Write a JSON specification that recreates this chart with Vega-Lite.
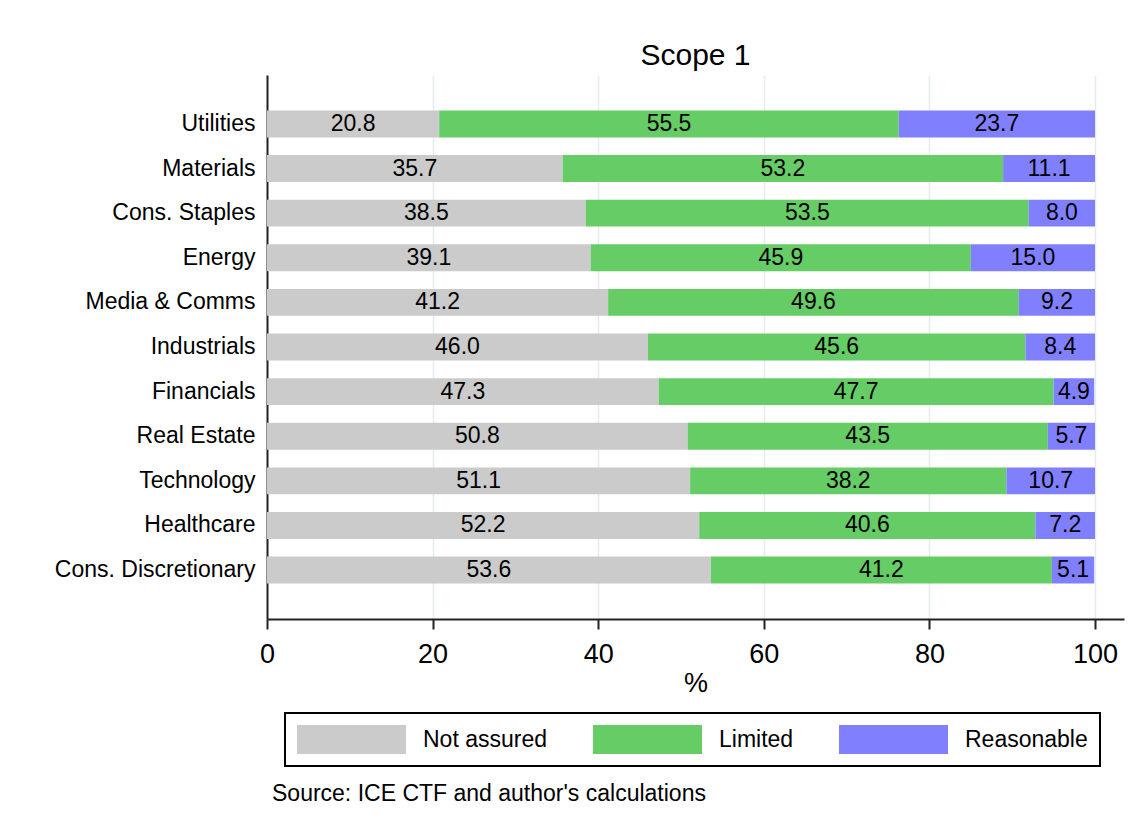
{
  "$schema": "https://vega.github.io/schema/vega-lite/v6.json",
  "background": "white",
  "padding": {"left": 54, "top": 41, "right": 5, "bottom": 5},
  "bounds": "flush",
  "title": {
    "text": "Source: ICE CTF and author's calculations",
    "orient": "bottom",
    "anchor": "start",
    "frame": "group",
    "offset": 16,
    "dx": 5,
    "fontSize": 23,
    "fontWeight": "normal",
    "font": "Liberation Sans",
    "color": "#000"
  },
  "config": {
    "font": "Liberation Sans",
    "view": {"stroke": null},
    "legend": {
      "orient": "none",
      "legendX": 18,
      "legendY": 638,
      "direction": "horizontal",
      "columns": 3,
      "symbolType": "M-1,-0.266H1V0.266H-1Z",
      "symbolSize": 11881,
      "clipHeight": 29,
      "labelFontSize": 23,
      "labelFont": "Liberation Sans",
      "labelOffset": 17,
      "columnPadding": 45,
      "padding": 12,
      "strokeColor": "#000",
      "strokeWidth": 2,
      "fillColor": "#fff",
      "symbolStrokeWidth": 0,
      "symbolOpacity": 1,
      "labelColor": "#000",
      "labelLimit": 300
    }
  },
  "vconcat": [
    {
      "width": 857,
      "height": 544,
      "title": {
        "text": "Scope 1",
        "anchor": "middle",
        "frame": "group",
        "fontSize": 30,
        "fontWeight": "normal",
        "baseline": "alphabetic",
        "offset": -20,
        "color": "#000"
      },
      "data": {
        "values": [
          {"sector": "Utilities", "cat": "Not assured", "o": 1, "v": 20.8},
          {"sector": "Utilities", "cat": "Limited", "o": 2, "v": 55.5},
          {"sector": "Utilities", "cat": "Reasonable", "o": 3, "v": 23.7},
          {"sector": "Materials", "cat": "Not assured", "o": 1, "v": 35.7},
          {"sector": "Materials", "cat": "Limited", "o": 2, "v": 53.2},
          {"sector": "Materials", "cat": "Reasonable", "o": 3, "v": 11.1},
          {"sector": "Cons. Staples", "cat": "Not assured", "o": 1, "v": 38.5},
          {"sector": "Cons. Staples", "cat": "Limited", "o": 2, "v": 53.5},
          {"sector": "Cons. Staples", "cat": "Reasonable", "o": 3, "v": 8.0},
          {"sector": "Energy", "cat": "Not assured", "o": 1, "v": 39.1},
          {"sector": "Energy", "cat": "Limited", "o": 2, "v": 45.9},
          {"sector": "Energy", "cat": "Reasonable", "o": 3, "v": 15.0},
          {"sector": "Media & Comms", "cat": "Not assured", "o": 1, "v": 41.2},
          {"sector": "Media & Comms", "cat": "Limited", "o": 2, "v": 49.6},
          {"sector": "Media & Comms", "cat": "Reasonable", "o": 3, "v": 9.2},
          {"sector": "Industrials", "cat": "Not assured", "o": 1, "v": 46.0},
          {"sector": "Industrials", "cat": "Limited", "o": 2, "v": 45.6},
          {"sector": "Industrials", "cat": "Reasonable", "o": 3, "v": 8.4},
          {"sector": "Financials", "cat": "Not assured", "o": 1, "v": 47.3},
          {"sector": "Financials", "cat": "Limited", "o": 2, "v": 47.7},
          {"sector": "Financials", "cat": "Reasonable", "o": 3, "v": 4.9},
          {"sector": "Real Estate", "cat": "Not assured", "o": 1, "v": 50.8},
          {"sector": "Real Estate", "cat": "Limited", "o": 2, "v": 43.5},
          {"sector": "Real Estate", "cat": "Reasonable", "o": 3, "v": 5.7},
          {"sector": "Technology", "cat": "Not assured", "o": 1, "v": 51.1},
          {"sector": "Technology", "cat": "Limited", "o": 2, "v": 38.2},
          {"sector": "Technology", "cat": "Reasonable", "o": 3, "v": 10.7},
          {"sector": "Healthcare", "cat": "Not assured", "o": 1, "v": 52.2},
          {"sector": "Healthcare", "cat": "Limited", "o": 2, "v": 40.6},
          {"sector": "Healthcare", "cat": "Reasonable", "o": 3, "v": 7.2},
          {"sector": "Cons. Discretionary", "cat": "Not assured", "o": 1, "v": 53.6},
          {"sector": "Cons. Discretionary", "cat": "Limited", "o": 2, "v": 41.2},
          {"sector": "Cons. Discretionary", "cat": "Reasonable", "o": 3, "v": 5.1}
        ]
      },
      "encoding": {
        "y": {
          "field": "sector",
          "type": "nominal",
          "sort": ["Utilities", "Materials", "Cons. Staples", "Energy", "Media & Comms", "Industrials", "Financials", "Real Estate", "Technology", "Healthcare", "Cons. Discretionary"],
          "scale": {"paddingInner": 0.396, "paddingOuter": 0.794},
          "axis": {
            "title": null,
            "ticks": false,
            "labelFontSize": 23,
            "labelPadding": 12,
            "labelColor": "#000",
            "labelLimit": 400,
            "domainColor": "#222",
            "domainWidth": 2,
            "grid": false
          }
        },
        "order": {"field": "o", "type": "quantitative"}
      },
      "layer": [
        {
          "mark": {"type": "bar"},
          "encoding": {
            "x": {
              "field": "v",
              "type": "quantitative",
              "stack": "zero",
              "scale": {"domain": [0, 103.5], "nice": false, "zero": true},
              "axis": {
                "title": "%",
                "values": [0, 20, 40, 60, 80, 100],
                "format": "d",
                "labelFontSize": 27,
                "labelColor": "#000",
                "labelPadding": 12,
                "labelFlush": false,
                "labelOverlap": false,
                "titleFontSize": 27,
                "titleFontWeight": "normal",
                "titleColor": "#000",
                "titlePadding": 3,
                "tickSize": 10,
                "tickWidth": 2,
                "tickColor": "#222",
                "domainColor": "#222",
                "domainWidth": 2,
                "grid": true,
                "gridColor": "#e3ecf0",
                "gridWidth": 1.5
              }
            },
            "color": {
              "field": "cat",
              "type": "nominal",
              "title": null,
              "scale": {
                "domain": ["Not assured", "Limited", "Reasonable"],
                "range": ["#cbcbcb", "#66cc66", "#8080ff"]
              }
            }
          }
        },
        {
          "mark": {"type": "text", "fontSize": 23, "color": "#000", "align": "center", "baseline": "middle"},
          "encoding": {
            "x": {"field": "v", "type": "quantitative", "stack": "zero", "bandPosition": 0.5},
            "detail": {"field": "cat"},
            "text": {"field": "v", "type": "quantitative", "format": ".1f"}
          }
        }
      ]
    }
  ]
}
